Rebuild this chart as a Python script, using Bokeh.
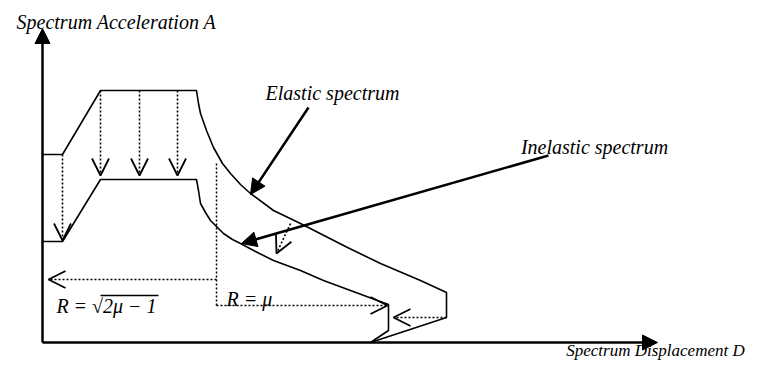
from bokeh.plotting import figure
from bokeh.models import Range1d, Arrow, NormalHead, OpenHead, ColumnDataSource
from bokeh.core.properties import value
from bokeh.embed import file_html
from bokeh.resources import INLINE

# ---- schematic data (picture-pixel coordinate system, y grows downward) ----
# Elastic spectrum (ADRS shape)
elastic_x = [42, 62, 100, 196, 198, 200, 206, 213, 222, 230, 240, 250, 273, 300, 347, 380, 420, 446, 446, 370]
elastic_y = [154, 154, 90, 90, 103, 113, 130, 147, 163, 173, 184, 193, 210, 223, 247, 263, 280, 292, 317, 342]
# Inelastic spectrum
inelastic_x = [42, 62, 100, 196, 198, 200, 205, 210, 217, 223, 232, 240, 255, 273, 300, 323, 350, 377, 388, 388, 370]
inelastic_y = [241, 241, 179, 179, 190, 203, 212, 220, 227, 233, 239, 243, 251, 260, 270, 280, 290, 300, 304, 330, 342]

# axes (origin, ends)
axis_origin = (42, 342)
axis_y_end = (42, 28)
axis_x_end = (657, 342)

# dotted reduction arrows: (x0, y0, x1, y1)
reduction_arrows = [
    (62, 154, 62, 240),
    (100, 90, 100, 175),
    (139, 90, 139, 175),
    (177, 90, 177, 175),
    (216, 279, 48, 279),
    (216, 305, 387, 305),
    (446, 317, 393, 317),
    (290, 223, 276, 253),
]
# dotted guide (no head)
guide_x = [216, 216]
guide_y = [163, 305]

# label pointers: (x0, y0, x1, y1)
pointer_arrows = [
    (308, 107, 250, 194),
    (548, 155, 241, 243),
]

labels_text = ["Spectrum Acceleration A", "Elastic spectrum", "Inelastic spectrum",
               "R = \u221a2\u03bc \u2212 1", "R = \u03bc"]
labels_x = [116, 332, 594, 106, 249]
labels_y = [21, 92, 146, 305, 298]

axis_label_text = ["Spectrum Displacement D"]
axis_label_x = [655]
axis_label_y = [359]

# radical overline over "2μ − 1"
overline_x = [[100, 158]]
overline_y = [[295, 295]]

W, H = 756, 360
p = figure(width=W, height=H, x_range=Range1d(0, W), y_range=Range1d(H, 0),
           output_backend="svg", toolbar_location=None, min_border=0)
p.axis.visible = False
p.grid.visible = False
p.outline_line_color = None
p.background_fill_color = "white"
p.border_fill_color = "white"

# curves
p.line(elastic_x, elastic_y, line_color="black", line_width=1.6)
p.line(inelastic_x, inelastic_y, line_color="black", line_width=1.6)

# dotted guide
p.line(guide_x, guide_y, line_color="black", line_width=1.5, line_dash="2 2")

# axes with filled heads
for end in (axis_y_end, axis_x_end):
    p.add_layout(Arrow(x_start=axis_origin[0], y_start=axis_origin[1], x_end=end[0], y_end=end[1],
                       line_width=2.5, line_color="black",
                       end=NormalHead(size=15, fill_color="black", line_color="black", line_width=1)))

# dotted arrows with open heads
for (x0, y0, x1, y1) in reduction_arrows:
    p.add_layout(Arrow(x_start=x0, y_start=y0, x_end=x1, y_end=y1,
                       line_width=1.6, line_color="black", line_dash="2 2",
                       end=OpenHead(size=17, line_color="black", line_width=1.8)))

# label pointers
for (x0, y0, x1, y1) in pointer_arrows:
    p.add_layout(Arrow(x_start=x0, y_start=y0, x_end=x1, y_end=y1,
                       line_width=2.5, line_color="black",
                       end=NormalHead(size=15, fill_color="black", line_color="black", line_width=1)))

src = ColumnDataSource(dict(x=labels_x, y=labels_y, t=labels_text))
p.text(x="x", y="y", text="t", source=src, text_font=value("Liberation Serif"),
       text_font_style="italic", text_font_size="20px", text_align="center",
       text_baseline="middle", text_color="black")

src2 = ColumnDataSource(dict(x=axis_label_x, y=axis_label_y, t=axis_label_text))
p.text(x="x", y="y", text="t", source=src2, text_font=value("Liberation Serif"),
       text_font_style="italic", text_font_size="17px", text_align="center",
       text_baseline="bottom", text_color="black")

p.multi_line(overline_x, overline_y, line_color="black", line_width=1.3)

open("out.html", "w").write(file_html(p, INLINE))
